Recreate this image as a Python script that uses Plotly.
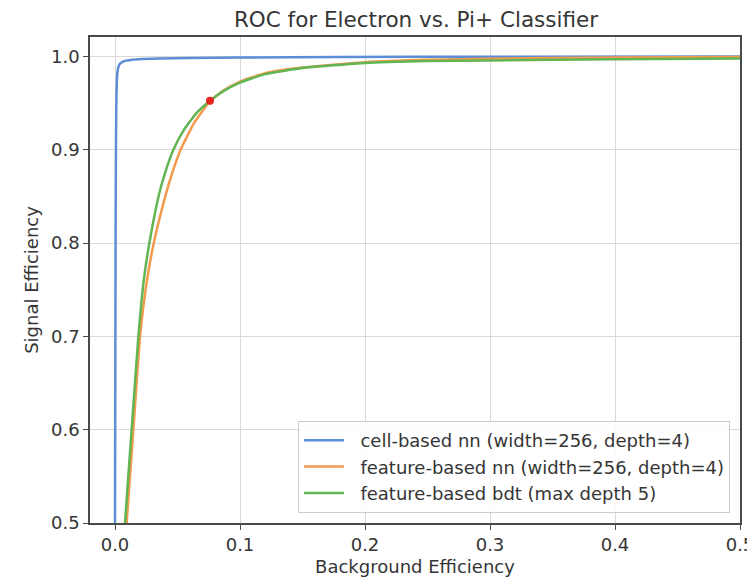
import plotly.graph_objects as go

# Data
cell_fpr = [0.0, 0.0003, 0.0006, 0.0010, 0.0015, 0.0022, 0.0030, 0.0042, 0.0060, 0.0090, 0.014, 0.022, 0.035, 0.06, 0.10, 0.18, 0.30, 0.50]
cell_tpr = [0.5, 0.70, 0.86, 0.945, 0.975, 0.9855, 0.9898, 0.9925, 0.9942, 0.9955, 0.9965, 0.9972, 0.9978, 0.9983, 0.9988, 0.9993, 0.9997, 1.0]

fnn_fpr = [0.0093, 0.0147, 0.0200, 0.0250, 0.0310, 0.0400, 0.0460, 0.0525, 0.0630, 0.0760, 0.0870, 0.1000, 0.1200, 0.1500, 0.2000, 0.2500, 0.3000, 0.4000, 0.5000]
fnn_tpr = [0.5000, 0.6000, 0.7000, 0.7550, 0.8000, 0.8490, 0.8760, 0.9000, 0.9280, 0.9520, 0.9636, 0.9730, 0.9820, 0.9880, 0.9938, 0.9963, 0.9975, 0.9988, 0.9995]

bdt_fpr = [0.0080, 0.0133, 0.0187, 0.0230, 0.0275, 0.0350, 0.0400, 0.0467, 0.0550, 0.0650, 0.0760, 0.0870, 0.1000, 0.1200, 0.1500, 0.2000, 0.2500, 0.3000, 0.4000, 0.5000]
bdt_tpr = [0.5000, 0.6000, 0.7000, 0.7600, 0.8000, 0.8510, 0.8750, 0.9000, 0.9210, 0.9390, 0.9525, 0.9630, 0.9720, 0.9810, 0.9875, 0.9930, 0.9950, 0.9957, 0.9970, 0.9978]

wp_fpr = [0.076]
wp_tpr = [0.9525]

names = [
    "cell-based nn (width=256, depth=4)",
    "feature-based nn (width=256, depth=4)",
    "feature-based bdt (max depth 5)",
]
colors = ["#5b8ed6", "#f39a4d", "#62b553"]

title_text = "ROC for Electron vs. Pi+ Classifier"
x_label = "Background Efficiency"
y_label = "Signal Efficiency"
x_ticks = [0.0, 0.1, 0.2, 0.3, 0.4, 0.5]
y_ticks = [0.5, 0.6, 0.7, 0.8, 0.9, 1.0]

fig = go.Figure()
series = [(cell_fpr, cell_tpr), (fnn_fpr, fnn_tpr), (bdt_fpr, bdt_tpr)]
for i, ((xs, ys), nm, col) in enumerate(zip(series, names, colors)):
    fig.add_trace(go.Scatter(
        x=xs, y=ys, mode="lines", name="\u00a0\u00a0" + nm,
        line=dict(color=col, width=2.5, shape="spline", smoothing=0.4),
    ))

fig.add_trace(go.Scatter(
    x=wp_fpr, y=wp_tpr, mode="markers", showlegend=False,
    marker=dict(color="#e8231a", size=8),
))

font_family = "DejaVu Sans"
text_color = "#353535"
axis_common = dict(
    showline=True, linecolor="#4a4a4a", linewidth=1.5, mirror=True,
    ticks="outside", ticklen=5, tickcolor="#4a4a4a", tickwidth=1.3,
    showgrid=True, gridcolor="#d9d9d9", gridwidth=1.4,
    zeroline=False, automargin=False,
    tickfont=dict(family=font_family, size=18, color=text_color),
)

# page body has an 8px margin, so the figure is offset by 8px
W, H = 747, 574
fig.update_layout(
    width=W, height=H,
    margin=dict(l=82, r=15, t=29, b=59),
    paper_bgcolor="white", plot_bgcolor="white",
    title=dict(text=title_text, x=408 / W, xanchor="center",
               y=1 - 11 / H, yanchor="middle",
               font=dict(family=font_family, size=21.5, color=text_color)),
    xaxis=dict(range=[-0.02, 0.5], tickvals=x_ticks, ticktext=[f"{v:.1f}" for v in x_ticks],
               title=dict(text=x_label, standoff=6,
                          font=dict(family=font_family, size=18, color=text_color)),
               **axis_common),
    yaxis=dict(range=[0.5, 1.0208], tickvals=y_ticks, ticktext=[f"{v:.1f}" for v in y_ticks],
               title=dict(text=y_label, standoff=8,
                          font=dict(family=font_family, size=18, color=text_color)),
               **axis_common),
    legend=dict(
        x=0.9846, xanchor="right", y=0.0206, yanchor="bottom",
        bgcolor="rgba(255,255,255,0.85)", bordercolor="#cccccc", borderwidth=1,
        font=dict(family=font_family, size=18, color=text_color),
        itemwidth=40,
    ),
    showlegend=True,
)

fig.write_html("out.html")
